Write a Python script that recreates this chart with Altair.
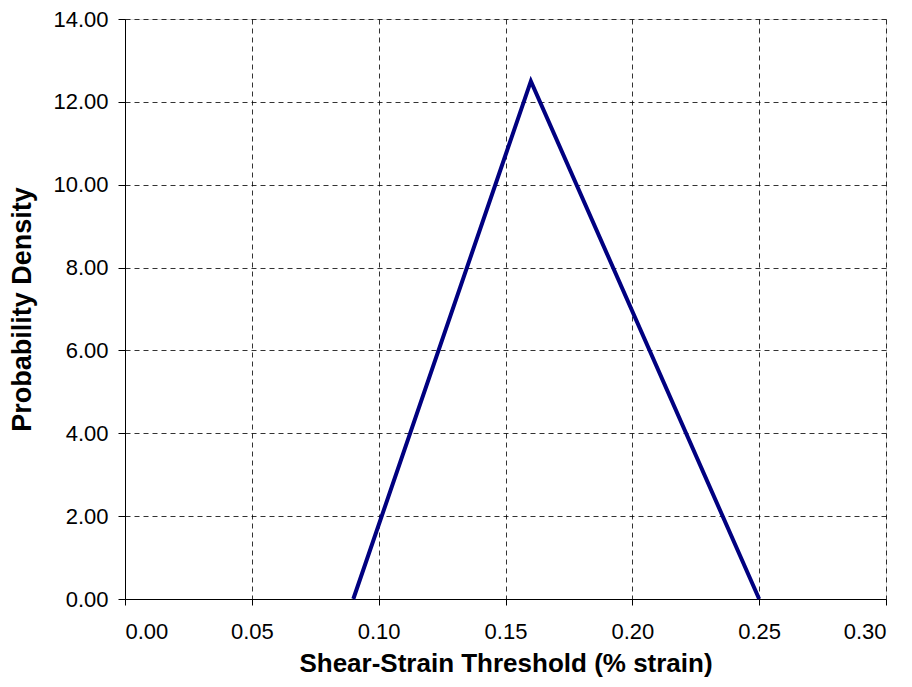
import altair as alt
import pandas as pd

x_vals = [0.09, 0.16, 0.25]
density = [0.0, 12.5, 0.0]
x_ticks = [0, 0.05, 0.1, 0.15, 0.2, 0.25, 0.3]
y_ticks = [0, 2, 4, 6, 8, 10, 12, 14]

df = pd.DataFrame({"x": x_vals, "y": density})

FONT = "Liberation Sans"

chart = alt.Chart(df).mark_line(color="#000080", strokeWidth=4).encode(
    x=alt.X("x:Q", scale=alt.Scale(domain=[0, 0.30], nice=False),
            axis=alt.Axis(title="Shear-Strain Threshold (% strain)", format=".2f",
                          values=x_ticks,
                          grid=True, gridDash=[5, 4], gridColor="#000000", gridOpacity=0.8,
                          domainColor="#000000", tickColor="#000000", tickSize=6,
                          labelFont=FONT, labelFontSize=22, labelColor="#000000", labelPadding=16,
                          titleFont=FONT, titleFontSize=26, titleFontWeight="bold",
                          titleColor="#000000", titlePadding=8)),
    y=alt.Y("y:Q", scale=alt.Scale(domain=[0, 14], nice=False),
            axis=alt.Axis(title="Probability Density", format=".2f",
                          values=y_ticks,
                          grid=True, gridDash=[5, 4], gridColor="#000000", gridOpacity=0.8,
                          domainColor="#000000", tickColor="#000000", tickSize=7,
                          labelFont=FONT, labelFontSize=22, labelColor="#000000", labelPadding=10,
                          titleFont=FONT, titleFontSize=27, titleFontWeight="bold",
                          titleColor="#000000", titlePadding=16)),
).properties(
    width=761, height=580,
    autosize=alt.AutoSizeParams(type="none"),
    padding={"left": 117, "top": 11, "right": 18, "bottom": 80},
).configure_view(stroke="#808080", strokeWidth=1.5).configure(background="white")

chart.save("out.html", embed_options={"renderer": "svg", "actions": False})
